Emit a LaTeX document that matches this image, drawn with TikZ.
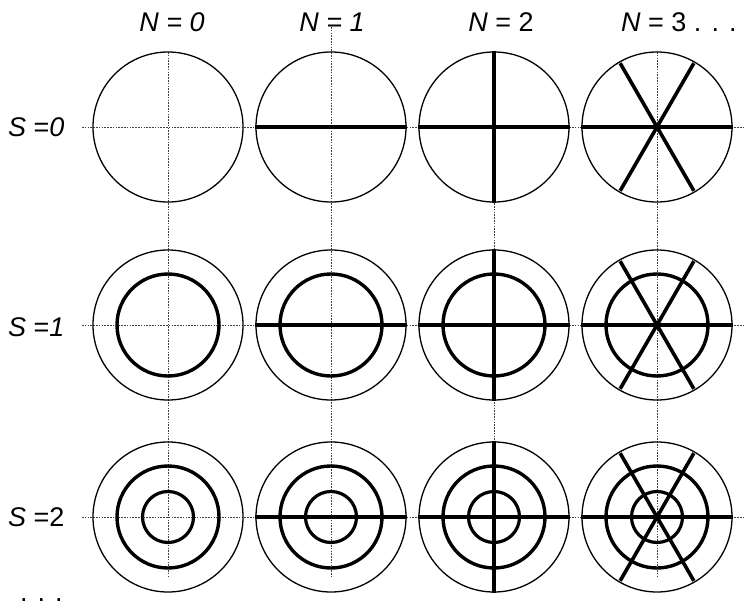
\documentclass[tikz,border=0pt]{standalone}
\usepackage{fontspec}
\setmainfont{Liberation Sans}
\usetikzlibrary{positioning}

\begin{document}
\begin{tikzpicture}[
  x=1pt, y=-1pt,
  lbl/.style={font=\fontsize{27}{32}\selectfont, inner sep=0pt},
  outer/.style={circle, draw=black, line width=1.3pt, minimum size=150pt, inner sep=0pt},
  midring/.style={circle, draw=black, line width=3.4pt, minimum size=102pt, inner sep=0pt},
  smallring/.style={circle, draw=black, line width=3.2pt, minimum size=51pt, inner sep=0pt},
  spoke/.style={draw=black, line width=3.6pt},
  guide/.style={draw=black!75, line width=0.7pt, dash pattern=on 1.6pt off 1.2pt}
]
\useasboundingbox (0,0) rectangle (752,607);

% guide lines
\coordinate (h0a) at (82,127); \coordinate (h0b) at (745,127);
\coordinate (h1a) at (82,325); \coordinate (h1b) at (745,325);
\coordinate (h2a) at (82,517); \coordinate (h2b) at (745,517);
\coordinate (v0a) at (168,52); \coordinate (v0b) at (168,578);
\coordinate (v1a) at (331,27); \coordinate (v1b) at (331,578);
\coordinate (v2a) at (494,52); \coordinate (v2b) at (494,578);
\coordinate (v3a) at (657,52); \coordinate (v3b) at (657,578);
\draw[guide] (h0a) -- (h0b);
\draw[guide] (h1a) -- (h1b);
\draw[guide] (h2a) -- (h2b);
\draw[guide] (v0a) -- (v0b);
\draw[guide] (v1a) -- (v1b);
\draw[guide] (v2a) -- (v2b);
\draw[guide] (v3a) -- (v3b);

% S = 0
\node[outer] (o00) at (168,127) {};
\node[outer] (o01) at (331,127) {};
\node[outer] (o02) at (494,127) {};
\node[outer] (o03) at (657,127) {};
% S = 1
\node[outer] (o10) at (168,325) {};
\node[outer] (o11) at (331,325) {};
\node[outer] (o12) at (494,325) {};
\node[outer] (o13) at (657,325) {};
\node[midring] (m10) at (168,325) {};
\node[midring] (m11) at (331,325) {};
\node[midring] (m12) at (494,325) {};
\node[midring] (m13) at (657,325) {};
% S = 2
\node[outer] (o20) at (168,517) {};
\node[outer] (o21) at (331,517) {};
\node[outer] (o22) at (494,517) {};
\node[outer] (o23) at (657,517) {};
\node[midring] (m20) at (168,517) {};
\node[midring] (m21) at (331,517) {};
\node[midring] (m22) at (494,517) {};
\node[midring] (m23) at (657,517) {};
\node[smallring] (s20) at (168,517) {};
\node[smallring] (s21) at (331,517) {};
\node[smallring] (s22) at (494,517) {};
\node[smallring] (s23) at (657,517) {};

% N = 1
\draw[spoke] (o01.west) -- (o01.east);
\draw[spoke] (o11.west) -- (o11.east);
\draw[spoke] (o21.west) -- (o21.east);
% N = 2
\draw[spoke] (o02.west) -- (o02.east);
\draw[spoke] (o02.north) -- (o02.south);
\draw[spoke] (o12.west) -- (o12.east);
\draw[spoke] (o12.north) -- (o12.south);
\draw[spoke] (o22.west) -- (o22.east);
\draw[spoke] (o22.north) -- (o22.south);
% N = 3
\draw[spoke] (o03.west) -- (o03.east);
\draw[spoke] ([shift={(60:-2pt)}]o03.60) -- ([shift={(60:2pt)}]o03.240);
\draw[spoke] ([shift={(120:-2pt)}]o03.120) -- ([shift={(120:2pt)}]o03.300);
\draw[spoke] (o13.west) -- (o13.east);
\draw[spoke] ([shift={(60:-2pt)}]o13.60) -- ([shift={(60:2pt)}]o13.240);
\draw[spoke] ([shift={(120:-2pt)}]o13.120) -- ([shift={(120:2pt)}]o13.300);
\draw[spoke] (o23.west) -- (o23.east);
\draw[spoke] ([shift={(60:-2pt)}]o23.60) -- ([shift={(60:2pt)}]o23.240);
\draw[spoke] ([shift={(120:-2pt)}]o23.120) -- ([shift={(120:2pt)}]o23.300);

% labels
\node[lbl, anchor=base] (n0) at (172,32) {\textit{N = 0}};
\node[lbl, anchor=base] (n1) at (332,32) {\textit{N = 1}};
\node[lbl, anchor=base] (n2) at (501,32) {\textit{N} = 2};
\node[lbl, anchor=base west] (n3) at (621,32) {\textit{N} = 3 . . .};
\node[lbl, anchor=west] (s0) at (8,127) {\textit{S} =\textit{0}};
\node[lbl, anchor=west] (s1) at (8,327) {\textit{S} =\textit{1}};
\node[lbl, anchor=west] (s2) at (8,517) {\textit{S} =2};
\node[lbl, anchor=base west] (dots) at (20,601) {. . .};

\end{tikzpicture}
\end{document}
